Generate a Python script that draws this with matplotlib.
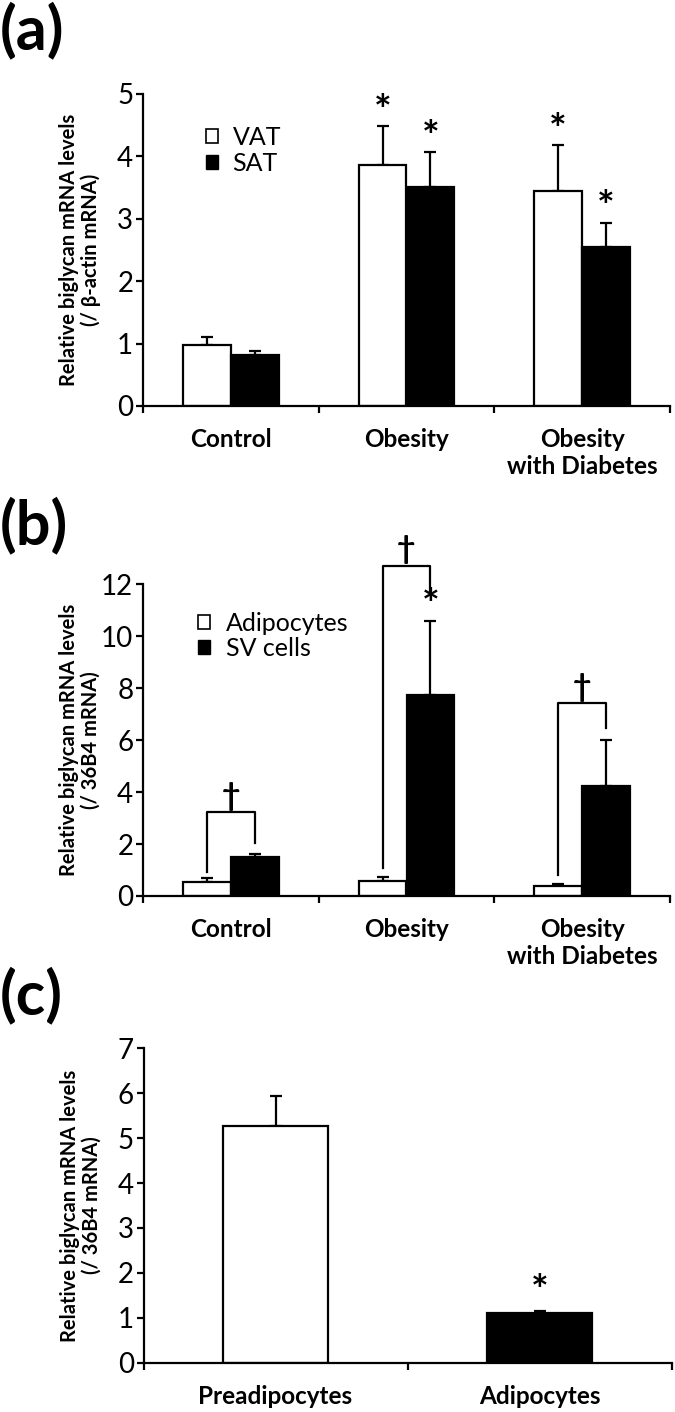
import matplotlib.pyplot as plt
import numpy as np
from matplotlib.patches import Patch

plt.rcParams['font.family'] = ['Lato', 'DejaVu Sans']

# panel (a): tissue
groups = ['Control', 'Obesity', 'Obesity\nwith Diabetes']
vat = [0.98, 3.87, 3.44]
vat_err = [0.13, 0.61, 0.74]
sat = [0.82, 3.51, 2.55]
sat_err = [0.06, 0.56, 0.39]
vat_sig = [False, True, True]
sat_sig = [False, True, True]

# panel (b): fractions
adipo = [0.55, 0.59, 0.40]
adipo_err = [0.13, 0.13, 0.08]
sv = [1.51, 7.74, 4.25]
sv_err = [0.11, 2.86, 1.75]
sv_sig = [False, True, False]
bracket_left = [0.94, 1.06, 0.81]
bracket_right = [2.03, 11.59, 6.46]
bracket_top = [3.22, 12.72, 7.42]

# panel (c): differentiation
cells = ['Preadipocytes', 'Adipocytes']
cell_vals = [5.27, 1.10]
cell_err = [0.67, 0.05]
cell_sig = [False, True]

W, H = 675, 1412
fig = plt.figure(figsize=(W / 100, H / 100), dpi=100)

LW = 1.6
TICK_FS = 20
LAB_FS = 17.5


def style_axes(ax, ncat, ymax, ystep, names, ylabel):
    ax.set_xlim(-0.5, ncat - 0.5)
    ax.set_ylim(0, ymax)
    ax.spines['top'].set_visible(False)
    ax.spines['right'].set_visible(False)
    ax.spines['left'].set_linewidth(LW)
    ax.spines['bottom'].set_linewidth(LW)
    ax.set_yticks(np.arange(0, ymax + 0.01, ystep))
    ax.tick_params(axis='y', direction='out', length=5, width=LW, labelsize=TICK_FS, pad=2)
    ax.set_xticks(np.arange(-0.5, ncat, 1.0))
    ax.set_xticklabels([])
    ax.tick_params(axis='x', which='major', direction='out', length=5, width=LW)
    ax.set_xticks(np.arange(ncat), minor=True)
    ax.set_xticklabels(names, minor=True, fontsize=LAB_FS, fontweight='bold', linespacing=1.2)
    ax.tick_params(axis='x', which='minor', length=0, pad=16)
    ax.set_ylabel(ylabel, fontsize=14.5, fontweight='bold', linespacing=1.1)
    ax.yaxis.set_label_coords(-0.08, 0.5)


def star(ax, x, y):
    ax.annotate('*', (x, y), xytext=(0, -4), textcoords='offset points',
                ha='center', va='bottom', fontsize=30, fontweight='bold', annotation_clip=False)


def dagger(ax, x, y):
    ax.annotate('\u2020', (x, y), xytext=(0, 1), textcoords='offset points',
                ha='center', va='bottom', fontsize=23, fontweight='bold', annotation_clip=False)


def pair_panel(ax, v1, e1, v2, e2, names, ymax, ystep, ylabel):
    x = np.arange(len(names))
    w = 0.273
    zero = np.zeros(len(names))
    ax.bar(x - w / 2, v1, w, color='white', edgecolor='black', linewidth=LW, zorder=2)
    ax.bar(x + w / 2, v2, w, color='black', edgecolor='black', linewidth=LW, zorder=2)
    ax.errorbar(x - w / 2, v1, yerr=[zero, e1], fmt='none', ecolor='black',
                elinewidth=LW, capsize=4.5, capthick=LW, zorder=1)
    ax.errorbar(x + w / 2, v2, yerr=[zero, e2], fmt='none', ecolor='black',
                elinewidth=LW, capsize=4.5, capthick=LW, zorder=1)
    style_axes(ax, len(names), ymax, ystep, names, ylabel)
    return x, w


# (a)
ax_a = fig.add_axes([143 / W, 1 - 406 / H, 527 / W, 312 / H])
x, w = pair_panel(ax_a, vat, vat_err, sat, sat_err, groups, 5, 1,
                  'Relative biglycan mRNA levels\n(/ \u03b2-actin mRNA)')
for i in range(len(groups)):
    if vat_sig[i]:
        star(ax_a, x[i] - w / 2, vat[i] + vat_err[i])
    if sat_sig[i]:
        star(ax_a, x[i] + w / 2, sat[i] + sat_err[i])
ax_a.legend(handles=[Patch(facecolor='white', edgecolor='black', linewidth=1.2, label='VAT'),
                     Patch(facecolor='black', edgecolor='black', label='SAT')],
            loc='upper left', bbox_to_anchor=(0.095, 0.937), frameon=False,
            handlelength=0.48, handleheight=0.48, handletextpad=0.6,
            labelspacing=0.1, borderpad=0, fontsize=18)

# (b)
ax_b = fig.add_axes([143 / W, 1 - 896 / H, 527 / W, 311.7 / H])
x, w = pair_panel(ax_b, adipo, adipo_err, sv, sv_err, groups, 12, 2,
                  'Relative biglycan mRNA levels\n(/ 36B4 mRNA)')
for i in range(len(groups)):
    if sv_sig[i]:
        star(ax_b, x[i] + w / 2, sv[i] + sv_err[i])
    ax_b.plot([x[i] - w / 2, x[i] - w / 2, x[i] + w / 2, x[i] + w / 2],
              [bracket_left[i], bracket_top[i], bracket_top[i], bracket_right[i]],
              color='black', linewidth=LW, clip_on=False, zorder=3)
    dagger(ax_b, x[i], bracket_top[i])
ax_b.legend(handles=[Patch(facecolor='white', edgecolor='black', linewidth=1.2, label='Adipocytes'),
                     Patch(facecolor='black', edgecolor='black', label='SV cells')],
            loc='upper left', bbox_to_anchor=(0.08, 0.952), frameon=False,
            handlelength=0.48, handleheight=0.48, handletextpad=0.65,
            labelspacing=0.1, borderpad=0, fontsize=18)

# (c)
ax_c = fig.add_axes([143.5 / W, 1 - 1362.7 / H, 528 / W, 314.4 / H])
xc = np.arange(len(cells))
ax_c.bar(xc, cell_vals, 0.4, color=['white', 'black'], edgecolor='black', linewidth=LW, zorder=2)
ax_c.errorbar(xc, cell_vals, yerr=[np.zeros(len(cells)), cell_err], fmt='none', ecolor='black',
              elinewidth=LW, capsize=4.5, capthick=LW, zorder=1)
style_axes(ax_c, len(cells), 7, 1, cells, 'Relative biglycan mRNA levels\n(/ 36B4 mRNA)')
for i in range(len(cells)):
    if cell_sig[i]:
        star(ax_c, xc[i], cell_vals[i] + cell_err[i] + 0.1)

# panel letters
for label, ytop in [('(a)', 1), ('(b)', 496), ('(c)', 966)]:
    fig.text(0 / W, 1 - ytop / H, label, fontsize=44, fontweight='bold', ha='left', va='top')

fig.savefig('out.png', dpi=100)
